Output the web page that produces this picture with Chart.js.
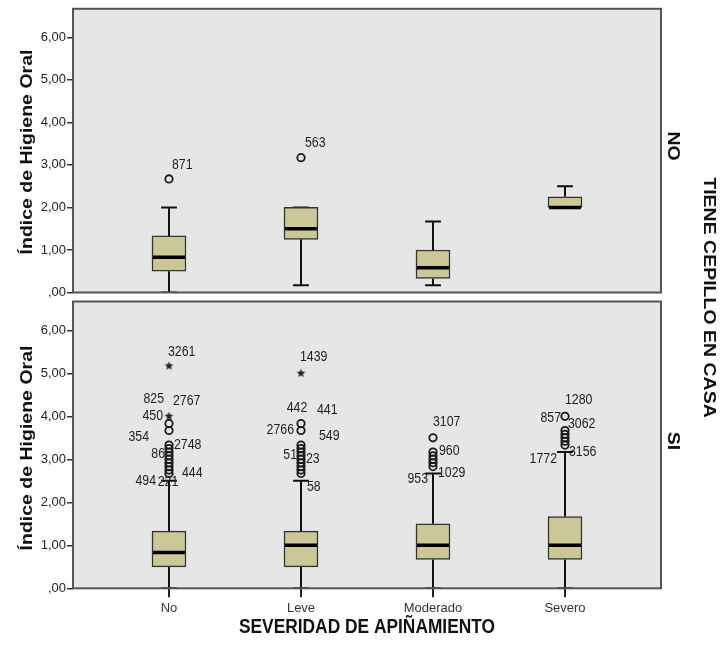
<!DOCTYPE html>
<html>
<head>
<meta charset="utf-8">
<script src="https://cdn.jsdelivr.net/npm/chart.js@4.4.1/dist/chart.umd.min.js"></script>
<style>
  html, body { margin: 0; padding: 0; background: #fff; }
  #wrap { position: relative; width: 720px; height: 653px; }
  #wrap canvas { position: absolute; left: 0; top: 0; }
</style>
</head>
<body>
<div id="wrap">
  <canvas id="chartNo" width="720" height="653"></canvas>
  <canvas id="chartSi" width="720" height="653"></canvas>
</div>
<script>
// categories on the x axis
const categories = ["No", "Leve", "Moderado", "Severo"];
const yTicks = [0, 1, 2, 3, 4, 5, 6];

// TIENE CEPILLO EN CASA = NO
const noLow = [0.00, 0.17, 0.17, 2.00];
const noQ1 = [0.50, 1.25, 0.33, 2.00];
const noMedian = [0.83, 1.50, 0.58, 2.00];
const noQ3 = [1.33, 2.00, 1.00, 2.25];
const noHigh = [2.00, 2.00, 1.67, 2.50];
const noCircles = [[2.67], [3.17], [], []];
const noStars = [[], [], [], []];
// [category index, value, case id]
const noLabels = [[0, 2.67, "871"], [1, 3.17, "563"]];

// TIENE CEPILLO EN CASA = SI
const siLow = [0.00, 0.00, 0.00, 0.00];
const siQ1 = [0.50, 0.50, 0.67, 0.67];
const siMedian = [0.83, 1.00, 1.00, 1.00];
const siQ3 = [1.33, 1.33, 1.50, 1.67];
const siHigh = [2.50, 2.50, 2.67, 3.17];
const siCircles = [
  [3.83, 3.67, 3.33, 3.25, 3.17, 3.08, 3.00, 2.92, 2.83, 2.75, 2.67],
  [3.83, 3.67, 3.33, 3.25, 3.17, 3.08, 3.00, 2.92, 2.83, 2.75, 2.67],
  [3.50, 3.17, 3.08, 3.00, 2.92, 2.83],
  [4.00, 3.67, 3.58, 3.50, 3.42, 3.33]
];
const siStars = [[5.17, 4.00], [5.00], [], []];
const siLabels = [
  [0, 5.17, "3261"], [0, 4.00, "825"], [0, 4.00, "2767"], [0, 4.00, "450"],
  [0, 3.33, "354"], [0, 3.33, "2748"], [0, 3.17, "86"], [0, 2.67, "494"],
  [0, 2.67, "221"], [0, 2.67, "444"],
  [1, 5.00, "1439"], [1, 3.83, "442"], [1, 3.83, "441"], [1, 3.67, "2766"],
  [1, 3.67, "549"], [1, 3.17, "51"], [1, 3.17, "23"], [1, 2.67, "58"],
  [2, 3.50, "3107"], [2, 3.17, "960"], [2, 2.83, "1029"], [2, 2.83, "953"],
  [3, 4.00, "1280"], [3, 4.00, "857"], [3, 3.67, "3062"], [3, 3.33, "1772"],
  [3, 3.33, "3156"]
];

// where each case label sits next to its point: align, dx, dy (px)
const labelPlace = {
  "871": ["left", 3, -14], "563": ["left", 4, -15],
  "3261": ["left", -1, -14], "825": ["right", -5, -17], "2767": ["left", 4, -15],
  "450": ["right", -6, 0], "354": ["right", -20, -8], "2748": ["left", 5, 0],
  "86": ["right", -4, 2], "494": ["right", -13, 8], "221": ["center", -1, 9],
  "444": ["left", 13, 0],
  "1439": ["left", -1, -16], "442": ["center", -4, -15], "441": ["left", 16, -13],
  "2766": ["right", -7, 0], "549": ["left", 18, 6], "51": ["right", -4, 3],
  "23": ["left", 5, 7], "58": ["left", 6, 14],
  "3107": ["left", 0, -16], "960": ["left", 6, -1], "1029": ["left", 5, 7],
  "953": ["right", -5, 13],
  "1280": ["left", 0, -16], "857": ["right", -4, 2], "3062": ["left", 3, -6],
  "1772": ["right", -8, 14], "3156": ["left", 4, 7]
};

const FONT = "'Liberation Sans', Arial, sans-serif";
const BOX_FILL = "#cbc796";
const PANEL_BG = "#e6e6e6";
const X_MIN = 1 - 96 / 132;
const X_MAX = 4 + 96 / 132;
const CAP = 0.06;     // half width of whisker caps, in category units
const HALF_BOX = 0.121;

function makeStar(r) {
  const s = Math.ceil(r * 2 + 2);
  const c = document.createElement("canvas");
  c.width = s;
  c.height = s;
  const g = c.getContext("2d");
  g.fillStyle = "#222";
  g.beginPath();
  for (let k = 0; k < 10; k++) {
    const a = -Math.PI / 2 + (k * Math.PI) / 5;
    const rr = k % 2 ? r * 0.45 : r;
    g.lineTo(s / 2 + rr * Math.cos(a), s / 2 + rr * Math.sin(a));
  }
  g.closePath();
  g.fill();
  return c;
}
const starImg = makeStar(4.5);

function buildDatasets(low, q1, med, q3, high, circles, stars) {
  const whiskers = [];
  const medians = [];
  categories.forEach((c, i) => {
    const x = i + 1;
    whiskers.push({ x: x, y: q3[i] }, { x: x, y: high[i] }, { x: x, y: null });
    whiskers.push({ x: x - CAP, y: high[i] }, { x: x + CAP, y: high[i] }, { x: x, y: null });
    whiskers.push({ x: x, y: q1[i] }, { x: x, y: low[i] }, { x: x, y: null });
    whiskers.push({ x: x - CAP, y: low[i] }, { x: x + CAP, y: low[i] }, { x: x, y: null });
    medians.push({ x: x - HALF_BOX, y: med[i] }, { x: x + HALF_BOX, y: med[i] }, { x: x, y: null });
  });

  const circlePts = [];
  circles.forEach((list, i) => list.forEach((v) => circlePts.push({ x: i + 1, y: v })));
  const starPts = [];
  stars.forEach((list, i) => list.forEach((v) => starPts.push({ x: i + 1, y: v })));

  return [
    {
      type: "line",
      data: whiskers,
      borderColor: "#111",
      borderWidth: 2,
      pointRadius: 0,
      spanGaps: false,
      order: 4,
    },
    {
      type: "bar",
      data: categories.map((c, i) => ({ x: i + 1, y: [q1[i], q3[i]] })),
      backgroundColor: BOX_FILL,
      borderColor: "#333",
      borderWidth: 1.5,
      borderSkipped: false,
      barThickness: 34,
      order: 3,
    },
    {
      type: "line",
      data: medians,
      borderColor: "#000",
      borderWidth: 3.5,
      borderCapStyle: "butt",
      pointRadius: 0,
      spanGaps: false,
      order: 2,
    },
    {
      type: "scatter",
      data: circlePts,
      pointStyle: "circle",
      pointRadius: 3.7,
      borderWidth: 1.8,
      borderColor: "#1a1a1a",
      backgroundColor: "rgba(0,0,0,0)",
      order: 1,
    },
    {
      type: "scatter",
      data: starPts,
      pointStyle: starImg,
      order: 0,
    },
  ];
}

// gray panel, dark frame and the case labels
const panelPlugin = {
  id: "panel",
  beforeDraw(chart) {
    const a = chart.chartArea;
    const ctx = chart.ctx;
    ctx.save();
    ctx.fillStyle = PANEL_BG;
    ctx.fillRect(a.left, a.top, a.right - a.left, a.bottom - a.top);
    ctx.restore();
  },
  afterDatasetsDraw(chart, args, opts) {
    const a = chart.chartArea;
    const ctx = chart.ctx;
    ctx.save();
    ctx.strokeStyle = "#555";
    ctx.lineWidth = 2;
    ctx.strokeRect(a.left, a.top, a.right - a.left, a.bottom - a.top);

    const xs = chart.scales.x;
    const ys = chart.scales.y;
    ctx.fillStyle = "#1e1e1e";
    ctx.font = "14px " + FONT;
    ctx.textBaseline = "middle";
    (opts.labels || []).forEach(([ci, v, txt]) => {
      const p = labelPlace[txt] || ["left", 4, 0];
      const px = xs.getPixelForValue(ci + 1) + p[1];
      const py = ys.getPixelForValue(v) + p[2];
      ctx.save();
      ctx.translate(px, py);
      ctx.scale(0.88, 1);
      ctx.textAlign = p[0];
      ctx.fillText(txt, 0, 0);
      ctx.restore();
    });
    ctx.restore();
  },
};

function drawText(ctx, text, x, y, rot, sx, sy) {
  ctx.save();
  ctx.translate(x, y);
  ctx.rotate(rot);
  ctx.scale(sx, sy);
  ctx.fillText(text, 0, 0);
  ctx.restore();
}

// axis titles and panel titles
const titlePlugin = {
  id: "titles",
  afterDraw(chart) {
    const ctx = chart.ctx;
    ctx.save();
    ctx.fillStyle = "#111";
    ctx.font = "bold 19.5px " + FONT;
    ctx.textAlign = "center";
    ctx.textBaseline = "alphabetic";
    drawText(ctx, "Índice de Higiene Oral", 32, 152, -Math.PI / 2, 1, 0.89);
    drawText(ctx, "Índice de Higiene Oral", 32, 448, -Math.PI / 2, 1, 0.89);
    drawText(ctx, "SEVERIDAD DE APIÑAMIENTO", 367, 633, 0, 0.89, 1);
    drawText(ctx, "NO", 668, 146, Math.PI / 2, 1, 0.89);
    drawText(ctx, "SI", 668, 441, Math.PI / 2, 1, 0.89);
    drawText(ctx, "TIENE CEPILLO EN CASA", 704, 297.5, Math.PI / 2, 1, 0.89);
    ctx.restore();
  },
};

function makeOptions(showX, padding, labels) {
  return {
    responsive: false,
    animation: false,
    events: [],
    layout: { padding: padding },
    plugins: {
      legend: { display: false },
      tooltip: { enabled: false },
      panel: { labels: labels },
    },
    scales: {
      x: {
        type: "linear",
        display: showX,
        offset: false,
        min: X_MIN,
        max: X_MAX,
        afterFit: (s) => {
          s.height = showX ? 64.7 : 0;
        },
        afterBuildTicks: (s) => {
          s.ticks = categories.map((c, i) => ({ value: i + 1 }));
        },
        ticks: {
          callback: (v) => categories[v - 1],
          font: { family: FONT, size: 13 },
          color: "#333",
          padding: 3,
          maxRotation: 0,
          autoSkip: false,
        },
        grid: { offset: false, drawOnChartArea: false, tickLength: 9, color: "#222", lineWidth: 2 },
        border: { display: false },
      },
      y: {
        type: "linear",
        min: 0,
        max: 6.67,
        afterFit: (s) => {
          s.width = 73;
        },
        afterBuildTicks: (s) => {
          s.ticks = yTicks.map((v) => ({ value: v }));
        },
        ticks: {
          callback: (v) => (v === 0 ? ",00" : v.toFixed(2).replace(".", ",")),
          font: { family: FONT, size: 13 },
          color: "#222",
          padding: 1,
        },
        grid: { drawOnChartArea: false, tickLength: 6, color: "#333", lineWidth: 1.5 },
        border: { display: false },
      },
    },
  };
}

new Chart(document.getElementById("chartNo").getContext("2d"), {
  type: "bar",
  data: { datasets: buildDatasets(noLow, noQ1, noMedian, noQ3, noHigh, noCircles, noStars) },
  options: makeOptions(false, { top: 4, right: 59, bottom: 360.5, left: 0 }, noLabels),
  plugins: [panelPlugin],
});

new Chart(document.getElementById("chartSi").getContext("2d"), {
  type: "bar",
  data: { datasets: buildDatasets(siLow, siQ1, siMedian, siQ3, siHigh, siCircles, siStars) },
  options: makeOptions(true, { top: 301.5, right: 59, bottom: 0, left: 0 }, siLabels),
  plugins: [panelPlugin, titlePlugin],
});
</script>
</body>
</html>
